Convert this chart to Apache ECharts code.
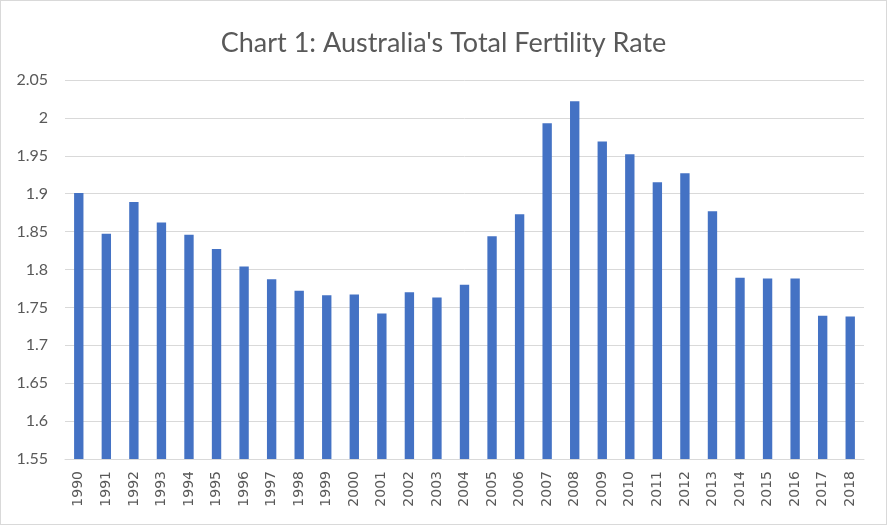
<!DOCTYPE html>
<html><head><meta charset="utf-8">
<script src="https://cdn.jsdelivr.net/npm/echarts@6/dist/echarts.min.js"></script>
<style>html,body{margin:0;padding:0;background:#fff;}#c{width:887px;height:525px;box-sizing:border-box;border:1px solid #d9d9d9;}</style>
</head><body><div id="c"></div>
<script>
const years = ['1990','1991','1992','1993','1994','1995','1996','1997','1998','1999','2000','2001','2002','2003','2004','2005','2006','2007','2008','2009','2010','2011','2012','2013','2014','2015','2016','2017','2018'];
const fertility = [1.901,1.847,1.889,1.862,1.846,1.827,1.804,1.787,1.772,1.766,1.767,1.742,1.770,1.763,1.780,1.844,1.873,1.993,2.022,1.969,1.952,1.915,1.927,1.877,1.789,1.788,1.788,1.739,1.738];
const titleText = "Chart 1: Australia's Total Fertility Rate";
const chart = echarts.init(document.getElementById('c'));
chart.setOption({
  animation:false,
  backgroundColor:'#fff',
  title:{text:titleText,left:'center',top:24,textStyle:{fontFamily:'Lato',fontWeight:'normal',fontSize:27,color:'#595959'}},
  grid:{left:64,right:22,top:79,bottom:65,containLabel:false},
  xAxis:{type:'category',data:years,
    axisLine:{lineStyle:{color:'#d9d9d9'}},axisTick:{show:false},
    axisLabel:{rotate:90,color:'#595959',fontSize:14,fontFamily:'DejaVu Sans',margin:12,interval:0}},
  yAxis:{type:'value',min:1.55,max:2.05,interval:0.05,
    axisLine:{show:false},axisTick:{show:false},
    splitLine:{lineStyle:{color:'#d9d9d9',width:1}},
    axisLabel:{color:'#595959',fontSize:16,fontFamily:'Lato',margin:17,
      formatter:v=>String(Math.round(v*100)/100)}},
  series:[{type:'bar',data:fertility,barWidth:'34%',itemStyle:{color:'#4472C4'}}]
});
</script></body></html>
